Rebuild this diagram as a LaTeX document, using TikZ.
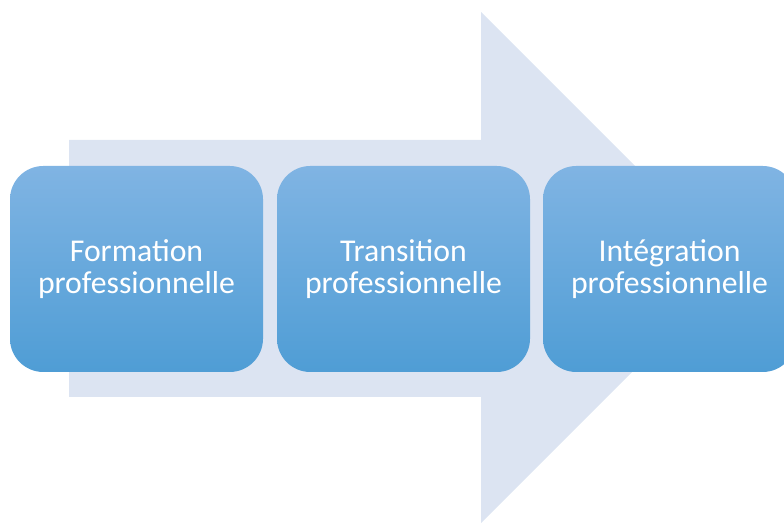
\documentclass[tikz,border=0pt]{standalone}
\usepackage{fontspec}
\setmainfont{Carlito}
\usetikzlibrary{positioning}
\definecolor{arrowfill}{RGB}{220,228,242}
\definecolor{boxtop}{RGB}{128,180,227}
\definecolor{boxbottom}{RGB}{79,157,213}
\begin{document}
\begin{tikzpicture}[x=0.75pt, y=0.75pt]
        % Define styles
        \tikzset{
            bigarrow/.style={fill=arrowfill, draw=none},
            stagebox/.style={rounded corners=25pt, top color=boxtop, bottom color=boxbottom,
                draw=none, minimum width=189.75pt, minimum height=154.5pt,
                inner sep=0pt, outer sep=0pt, align=center, text=white,
                font=\fontsize{23.8}{24.2}\selectfont}
        }
        \useasboundingbox (0,0) rectangle (784,523);
        % Background arrow
        \begin{scope}
            \clip (0,0) rectangle (784,523);
            \fill[bigarrow] (69,383) -- (481,383) -- (481,511) -- (736.5,255.5)
                -- (481,0) -- (481,126) -- (69,126) -- cycle;
            % The three stages
            \node[stagebox] (formation) at (136.5,254) {Formation\\professionnelle};
            \node[stagebox, right=10.5pt of formation] (transition) {Transition\\professionnelle};
            \node[stagebox, right=9.75pt of transition] (integration) {Intégration\\professionnelle};
        \end{scope}
    \end{tikzpicture}
\end{document}
